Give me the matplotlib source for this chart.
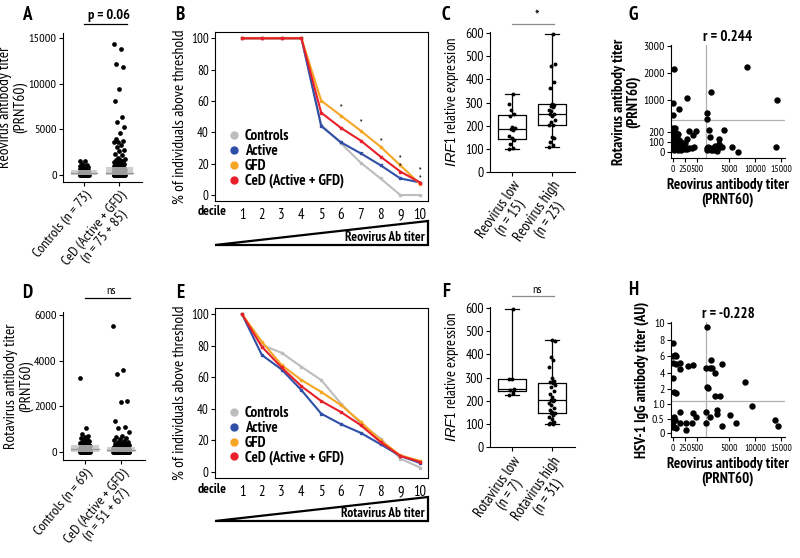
import numpy as np
import matplotlib
matplotlib.use("Agg")
import matplotlib.pyplot as plt
from matplotlib import font_manager
from matplotlib.patches import Polygon, Rectangle

# ---- data -------------------------------------------------------------
deciles = list(range(1, 11))
line_names = ["Controls", "Active", "GFD", "CeD (Active + GFD)"]
line_colors = ["#bdbdbd", "#2f4fa6", "#f6a623", "#e8202a"]

reo_controls_curve = [100, 100, 100, 100, 44.7, 33, 20.6, 10.6, 0, 0]
reo_active_curve = [100, 100, 100, 100, 44, 33.6, 26.6, 19, 10.6, 8]
reo_gfd_curve = [100, 100, 100, 100, 60.2, 50.6, 41, 30.8, 19, 7]
reo_ced_curve = [100, 100, 100, 100, 52.5, 42.8, 34.7, 24.5, 15, 8]
reo_star_x = [6, 7, 8, 9, 9, 10, 10]
reo_star_y = [54.9, 45.3, 33.4, 22.8, 17.4, 15, 9.8]

rota_controls_curve = [100, 80.5, 75.6, 66.7, 58.3, 43.4, 30.7, 21.2, 8.5, 2.8]
rota_active_curve = [100, 74.2, 65, 51.9, 37, 30.3, 24.8, 17.6, 10.2, 5.7]
rota_gfd_curve = [100, 82.6, 67.8, 58.3, 50.8, 42.4, 31.8, 20.1, 10.6, 7]
rota_ced_curve = [100, 79.4, 66.3, 54.4, 45, 38, 29.7, 19, 10.2, 6.4]

reo_controls = [1530, 1500, 1250, 1100, 1000, 950, 900, 870, 820, 800, 760, 720, 700,
                680, 640, 600, 580, 560, 520, 500, 480, 460, 440, 420, 400, 380, 360,
                340, 320, 300, 280, 260, 240, 220, 200, 190, 180, 170, 160, 150, 140,
                130, 120, 110, 100, 90, 80, 70, 60, 50, 45, 40, 35, 30, 25, 20, 20, 15,
                10, 10, 10, 5, 5, 5, 0, 0, 0, 0, 0, 0, 0, 0, 0]
reo_ced = [14350, 13850, 12100, 11850, 9450, 8150, 6300, 5750, 5200, 4550, 3900, 3700,
           3650, 3580, 3300, 3100, 2750, 2600, 2320, 2200, 1880, 1800, 1640, 1600, 1500,
           1400, 1370, 1300, 1240, 1200, 1150, 1100, 1060, 1000, 980, 940, 920, 900,
           870, 850, 820, 800, 790, 760, 735, 720, 700, 690, 660, 640, 620, 605, 580,
           560, 545, 520, 500, 490, 480, 465, 460, 450, 440, 425, 420, 410, 400, 385,
           380, 370, 360, 350, 340, 330, 325, 310, 300, 290, 280, 270, 260, 250, 240,
           235, 220, 210, 200, 195, 190, 185, 180, 175, 170, 165, 160, 155, 150, 145,
           140, 135, 130, 125, 120, 115, 110, 105, 100, 95, 90, 85, 80, 75, 70, 65, 60,
           55, 50, 48, 45, 42, 40, 38, 35, 32, 30, 28, 25, 22, 20, 18, 15, 12, 10, 10,
           8, 5, 5, 5, 5, 0, 0, 0, 0, 0, 0, 0, 0, 0, 0, 0, 0, 0, 0, 0, 0, 0, 0, 0, 0, 0]
rota_controls = [3250, 1040, 800, 700, 660, 620, 580, 540, 500, 470, 440, 420, 400, 380,
                 360, 340, 320, 300, 290, 280, 260, 250, 240, 220, 210, 200, 190, 180,
                 170, 160, 150, 140, 130, 120, 110, 100, 95, 90, 85, 80, 75, 70, 65, 60,
                 55, 50, 45, 40, 35, 30, 25, 20, 20, 15, 15, 10, 10, 10, 5, 5, 5, 5,
                 0, 0, 0, 0, 0, 0, 0]
rota_ced = [5520, 3600, 3400, 2250, 2180, 1350, 1080, 1030, 880, 700, 640, 600, 560, 520,
            480, 450, 420, 400, 370, 350, 330, 300, 280, 260, 250, 240, 230, 220, 210,
            200, 190, 180, 175, 170, 160, 155, 150, 145, 140, 135, 130, 125, 120, 115,
            110, 105, 100, 98, 95, 92, 90, 88, 85, 82, 80, 78, 75, 72, 70, 68, 65, 62,
            60, 58, 55, 52, 50, 48, 45, 42, 40, 38, 35, 32, 30, 28, 25, 22, 20, 18, 15,
            12, 10, 10, 8, 8, 5, 5, 5, 5, 0, 0, 0, 0, 0, 0, 0, 0, 0, 0, 0, 0, 0, 0, 0,
            0, 0, 0, 0, 0, 0, 0, 0, 0, 0, 0, 0, 0]

irf1_reo_low = [100, 105, 120, 140, 145, 155, 180, 185, 190, 195, 240, 250, 270, 295, 335]
irf1_reo_high = [108, 115, 130, 145, 150, 205, 205, 215, 225, 240, 250, 252, 265, 270,
                 280, 285, 290, 295, 365, 390, 460, 465, 595]
irf1_rota_low = [225, 235, 245, 250, 295, 295, 595]
irf1_rota_high = [100, 100, 105, 110, 120, 130, 140, 145, 148, 150, 160, 170, 180, 190,
                  200, 203, 205, 215, 230, 240, 260, 270, 275, 280, 285, 300, 345, 375,
                  390, 458, 462]

g_reo = [20, 10, 130, 10, 300, 8500, 14300, 1400, 600, 600,
         0, 40, 0, 60, 110, 10, 80, 0, 130, 40, 100, 170, 10, 60, 130, 200, 240, 290,
         340, 390, 440, 30, 100, 170, 290, 340, 410, 480, 240,
         1000, 1270, 3980, 3000, 3100, 3600, 5470, 6630, 14040, 630, 700, 900, 1100,
         1400, 1600, 2000, 2300, 2570, 2800, 1800]
g_rota = [2150, 880, 650, 420, 1050, 2200, 1000, 1300, 520, 300,
          245, 240, 203, 193, 180, 153, 137, 120, 120, 87, 80, 103, 60, 47, 47, 60, 27,
          33, 37, 37, 53, 20, 20, 20, 133, 213, 170, 213, 87,
          220, 153, 225, 127, 80, 47, 53, 5, 47, 40, 25, 55, 30, 20, 45, 35, 60, 15,
          40, 25]

h_reo = [0, 35, 10, 70, 0, 70, 140, 140, 0, 20, 70, 312, 417,
         630, 560, 1200, 1660, 2180, 1530, 3600, 700, 820, 2180, 3150, 7980,
         9300, 560, 1200, 560, 2700, 2700, 3660, 5100, 6300, 13900, 14500,
         14, 35, 0, 70, 140, 140, 264, 264, 390, 417, 480, 28, 0]
h_hsv = [7.65, 6.1, 6.05, 6.0, 5.2, 5.1, 5.2, 4.4, 3.3, 1.6, 1.5, 4.8, 4.9,
         9.5, 4.6, 4.6, 4.5, 4.0, 5.55, 5.1, 2.3, 2.1, 1.2, 1.2, 2.9,
         0.93, 0.75, 0.55, 0.36, 0.8, 0.66, 0.25, 0.62, 0.36, 0.45, 0.26,
         0.57, 0.45, 0.23, 0.17, 0.36, 0.74, 0.36, 0.11, 0.36, 0.7, 0.57, 0.23, 0.4]

# ---- fonts: prefer a condensed sans that also has a bold face ----------
faces = font_manager.fontManager.ttflist


def wnum(w):
    if isinstance(w, str):
        return font_manager.weight_dict.get(w, 400)
    return int(w)


def is_condensed(f):
    return ("Narrow" in f.name or "Condensed" in f.name
            or f.stretch in ("condensed", "semi-condensed"))


cands = []
for f in faces:
    if is_condensed(f) and (f.name, f.stretch) not in cands:
        cands.append((f.name, f.stretch))
cands.sort(key=lambda c: (0 if "Narrow" in c[0] else 1 if "Condensed" in c[0] else 2))

family, stretch, bold_family = "Liberation Sans", "normal", "Liberation Sans"
regular_only = None
for name, st in cands:
    ws = {wnum(f.weight) for f in faces if f.name == name and f.stretch == st}
    has_reg = any(350 <= w <= 500 for w in ws)
    has_bold = any(w >= 600 for w in ws)
    if has_reg and has_bold:
        family, stretch, bold_family = name, st, name
        break
    if has_reg and regular_only is None:
        regular_only = (name, st)
else:
    if regular_only:
        family, stretch = regular_only

has_italic = any(f.name == family and f.style in ("italic", "oblique") for f in faces)
italic_family = family if has_italic else "Liberation Sans"

plt.rcParams["font.family"] = [family, "DejaVu Sans"]
plt.rcParams["font.stretch"] = stretch
plt.rcParams["mathtext.fontset"] = "custom"
plt.rcParams["mathtext.it"] = italic_family + ":italic"
plt.rcParams["mathtext.rm"] = family
plt.rcParams["axes.linewidth"] = 0.8
plt.rcParams["xtick.major.width"] = 0.8
plt.rcParams["ytick.major.width"] = 0.8
plt.rcParams["xtick.major.size"] = 3
plt.rcParams["ytick.major.size"] = 3
plt.rcParams["xtick.major.pad"] = 2
plt.rcParams["ytick.major.pad"] = 1.5

W, H = 800, 558
fig = plt.figure(figsize=(W / 100, H / 100), dpi=100)
renderer = fig.canvas.get_renderer()


def text_width(s, size, **kw):
    t = fig.text(0, 0, s, fontsize=size, **kw)
    w = t.get_window_extent(renderer=renderer).width
    t.remove()
    return w


# scale sizes so text widths match the original's condensed face
K_REG = float(np.clip(123 / text_width("Reovirus antibody titer", 9), 0.8, 1.35))
K_BOLD = float(np.clip(100 / text_width("CeD (Active + GFD)", 9.5, fontweight="bold",
                                        fontfamily=bold_family), 0.8, 1.35))
BOLD = dict(fontweight="bold", fontfamily=bold_family)


def fs(x):
    return x * K_REG


def fb(x):
    return x * K_BOLD


def rect(left, top, right, bottom):
    return [left / W, 1 - bottom / H, (right - left) / W, (bottom - top) / H]


def letter(x, y, s):
    fig.text(x / W, 1 - y / H, s, fontsize=fb(12), ha="center", va="center", **BOLD)


def jitter(n, width):
    k = np.arange(n)
    return width * (((k * 0.618034) % 1.0) - 0.5)


def open_axes(ax):
    ax.spines["top"].set_visible(False)
    ax.spines["right"].set_visible(False)


def bracket(ax, y_line, y_text, text, x0, x1, color, **kw):
    tr = ax.get_xaxis_transform()
    ax.plot([x0, x1], [y_line, y_line], color=color, lw=0.9, transform=tr, clip_on=False)
    ax.text((x0 + x1) / 2 + 0.1, y_text, text, transform=tr, ha="center", va="center", **kw)


def strip_panel(ax, groups, labels, ylim, yticks, ylabel, spreads):
    for pos, vals in enumerate(groups):
        vals = np.asarray(vals, float)
        ax.plot(pos + jitter(len(vals), spreads[pos]), vals, "o", color="black",
                ms=3.4, mew=0, zorder=2)
        q1, med, q3 = np.percentile(vals, [25, 50, 75])
        ax.add_patch(Rectangle((pos - 0.38, q1), 0.76, q3 - q1, facecolor="#c4c4c4",
                               edgecolor="none", alpha=0.8, zorder=3))
        ax.plot([pos - 0.38, pos + 0.38], [med, med], color="#9a9a9a", lw=1, zorder=3)
    open_axes(ax)
    ax.set_xlim(-0.6, 1.65)
    ax.set_ylim(*ylim)
    ax.set_yticks(yticks)
    ax.set_xticks([0, 1])
    ax.set_xticklabels(labels, rotation=50, ha="right", rotation_mode="anchor",
                       fontsize=fs(8.3), multialignment="center", linespacing=1.0)
    ax.tick_params(axis="y", labelsize=fs(7.2))
    ax.set_ylabel(ylabel, fontsize=fs(9), labelpad=1, linespacing=1.0)


def decile_panel(ax, curves, stars):
    for vals, name, col in zip(curves, line_names, line_colors):
        ax.plot(deciles, vals, color=col, lw=1.5, marker="s", ms=1.8, label=name)
    if stars:
        for sx, sy in zip(*stars):
            ax.text(sx, sy, "*", ha="center", va="center", fontsize=fs(5))
    ax.set_xlim(-0.37, 10.4)
    ax.set_ylim(-3.8, 104)
    ax.set_yticks([0, 20, 40, 60, 80, 100])
    ax.set_xticks(deciles)
    ax.tick_params(axis="x", length=0, labelsize=fs(8.5), pad=5)
    ax.tick_params(axis="y", labelsize=fs(7.5))
    ax.set_ylabel("% of individuals above threshold", fontsize=fs(9), labelpad=3)
    ax.text(-0.014, -0.065, "decile", transform=ax.transAxes, ha="center", va="center",
            fontsize=fb(8.5), **BOLD)
    handles = [plt.Line2D([], [], ls="none", marker="o", ms=5, color=c) for c in line_colors]
    ax.legend(handles, line_names, loc="lower left", bbox_to_anchor=(0.035, 0.04),
              frameon=False, handletextpad=0.3, labelspacing=0.05, borderaxespad=0,
              handlelength=0.8,
              prop={"weight": "bold", "size": fb(9.5), "family": bold_family})


def wedge(box, text):
    tri = fig.add_axes(rect(*box))
    tri.axis("off")
    tri.add_patch(Polygon([[0, 0], [1, 0], [1, 1]], closed=True, facecolor="white",
                          edgecolor="black", lw=1.6, transform=tri.transAxes, clip_on=False))
    tri.text(0.985, 0.3, text, ha="right", va="center", fontsize=fb(8.5),
             transform=tri.transAxes, **BOLD)


def box_panel(ax, groups, labels):
    ax.boxplot(groups, positions=[0, 1], widths=0.7, whis=(0, 100), showfliers=False,
               medianprops=dict(color="black", lw=0.9), boxprops=dict(lw=0.9),
               whiskerprops=dict(lw=0.9), capprops=dict(lw=0.9))
    for pos, vals in enumerate(groups):
        ax.plot(pos + jitter(len(vals), 0.16), vals, "o", color="black", ms=2.8, mew=0,
                zorder=3)
    open_axes(ax)
    ax.set_xlim(-0.55, 1.575)
    ax.set_ylim(0, 605)
    ax.set_yticks([0, 100, 200, 300, 400, 500, 600])
    ax.set_xticks([0, 1])
    ax.set_xticklabels(labels, rotation=55, ha="right", rotation_mode="anchor",
                       fontsize=fs(8.6), multialignment="center", linespacing=1.0)
    ax.tick_params(axis="y", labelsize=fs(8))
    ax.set_ylabel(r"$\mathit{IRF1}$ relative expression", fontsize=fs(8.5), labelpad=3)


def broken(a, b, gap, c):
    def fwd(v):
        v = np.asarray(v, dtype=float)
        return np.where(v <= b, v * a, b * a + gap + (v - b) * c)

    def inv(t):
        t = np.asarray(t, dtype=float)
        lo = b * a
        return np.where(t <= lo, t / a,
                        np.where(t < lo + gap, b, b + (t - lo - gap) / c))
    return fwd, inv


def scatter_panel(ax, xs, ys, yscale, ylim, yticks, yticklabels, yline, ylabel, title):
    ax.set_xscale("function", functions=broken(0.048, 500, 9, 0.00517))
    ax.set_yscale("function", functions=yscale)
    ax.plot(xs, ys, "o", color="black", ms=4.6, mew=0, zorder=3)
    ax.axvline(np.nextafter(500, np.inf), color="#b0b0b0", lw=0.9, zorder=1)
    ax.axhline(yline, color="#b0b0b0", lw=0.9, zorder=1)
    open_axes(ax)
    ax.set_xlim(-42, 15780)
    ax.set_ylim(*ylim)
    ax.set_xticks([0, 250, 500, 5000, 10000, 15000])
    ax.set_xticklabels(["0", "250", "500", "5000", "10000", "15000"])
    ax.set_yticks(yticks)
    ax.set_yticklabels(yticklabels)
    ax.minorticks_off()
    ax.tick_params(axis="x", labelsize=fs(5.6))
    ax.tick_params(axis="y", labelsize=fs(6.8))
    ax.set_xlabel("Reovirus antibody titer\n(PRNT60)", fontsize=fb(9.5), labelpad=3,
                  linespacing=1.0, **BOLD)
    ax.set_ylabel(ylabel, fontsize=fb(9.5), labelpad=2, linespacing=1.0, **BOLD)
    ax.set_title(title, fontsize=fb(9.5), pad=3, **BOLD)


# ---- A ----------------------------------------------------------------
axA = fig.add_axes(rect(63, 33, 142, 182))
strip_panel(axA, [reo_controls, reo_ced],
            ["Controls (n = 73)", "CeD (Active + GFD)\n(n = 75 + 85)"],
            (-770, 15550), [0, 5000, 10000, 15000],
            "Reovirus antibody titer\n(PRNT60)", [0.26, 0.32])
bracket(axA, 1.06, 1.12, "p = 0.06", 0.0, 1.23, "black", fontsize=fb(9), **BOLD)
letter(27, 15, "A")

# ---- D ----------------------------------------------------------------
axD = fig.add_axes(rect(63, 312, 145, 460))
strip_panel(axD, [rota_controls, rota_ced],
            ["Controls (n = 69)", "CeD (Active + GFD)\n(n = 51 + 67)"],
            (-350, 6130), [0, 2000, 4000, 6000],
            "Rotavirus antibody titer\n(PRNT60)", [0.28, 0.45])
bracket(axD, 1.095, 1.14, "ns", 0.0, 1.23, "black", fontsize=fs(7))
letter(27, 293, "D")

# ---- B / E ------------------------------------------------------------
axB = fig.add_axes(rect(215, 32, 428, 201))
decile_panel(axB, [reo_controls_curve, reo_active_curve, reo_gfd_curve, reo_ced_curve],
             (reo_star_x, reo_star_y))
wedge((215, 221, 428, 245), "Reovirus Ab titer")
letter(180, 15, "B")

axE = fig.add_axes(rect(215, 308, 428, 478))
decile_panel(axE, [rota_controls_curve, rota_active_curve, rota_gfd_curve, rota_ced_curve],
             None)
wedge((215, 497, 428, 521), "Rotavirus Ab titer")
letter(180, 293, "E")

# ---- C / F ------------------------------------------------------------
axC = fig.add_axes(rect(490, 32, 575, 172))
box_panel(axC, [irf1_reo_low, irf1_reo_high],
          ["Reovirus low\n(n = 15)", "Reovirus high\n(n = 23)"])
bracket(axC, 1.057, 1.11, "*", 0.0, 1.05, "#8a8a8a", fontsize=fs(9))
letter(446, 15, "C")

axF = fig.add_axes(rect(490, 307, 575, 447))
box_panel(axF, [irf1_rota_low, irf1_rota_high],
          ["Rotavirus low\n(n = 7)", "Rotavirus high\n(n = 31)"])
bracket(axF, 1.076, 1.12, "ns", 0.0, 1.05, "#8a8a8a", fontsize=fs(7))
letter(446, 292, "F")

# ---- G / H ------------------------------------------------------------
axG = fig.add_axes(rect(671, 45, 785, 158))
scatter_panel(axG, g_reo, g_rota, broken(0.1, 250, 7, 0.027), (-60, 3030),
              [0, 100, 200, 1000, 2000, 3000], ["0", "100", "200", "1000", "2000", "3000"],
              np.nextafter(250, np.inf), "Rotavirus antibody titer\n(PRNT60)", "r = 0.244")
letter(633, 15, "G")

axH = fig.add_axes(rect(671, 322, 785, 437))
scatter_panel(axH, h_reo, h_hsv, broken(29, 1.1, 5, 8.25), (-0.13, 10.15),
              [0, 0.5, 1.0, 2, 4, 6, 8, 10], ["0", "0.5", "1.0", "2", "4", "6", "8", "10"],
              1.1, "HSV-1 IgG antibody titer (AU)", "r = -0.228")
letter(633, 290, "H")

fig.savefig("out.png", dpi=100)
